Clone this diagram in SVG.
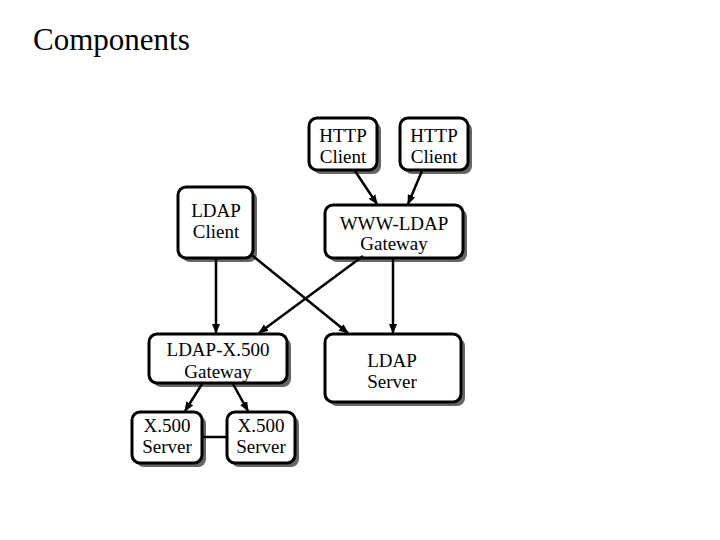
<svg xmlns="http://www.w3.org/2000/svg" width="720" height="540" viewBox="0 0 720 540">
<style>
.sh{fill:#666;stroke:none}
.bx{fill:#fff;stroke:#000;stroke-width:3}
text{font-family:"Liberation Serif","Times New Roman",serif;font-size:19px;fill:#000;text-anchor:middle}
.t{font-size:31px;text-anchor:start}
.c line{stroke:#000;stroke-width:2.5}
</style>
<defs>
<marker id="a" markerWidth="10" markerHeight="10" refX="9" refY="5" orient="auto" markerUnits="userSpaceOnUse">
<path d="M0,1 L10,5 L0,9 Z" fill="#000"/>
</marker>
</defs>
<rect width="720" height="540" fill="#fff"/>
<text class="t" x="33" y="50">Components</text>
<g id="http1"><rect class="sh" x="313" y="122" width="68" height="52" rx="8"/><rect class="bx" x="309" y="118" width="68" height="52" rx="8"/><text x="343" y="142">HTTP</text><text x="343" y="163">Client</text></g>
<g id="http2"><rect class="sh" x="404" y="122" width="68" height="52" rx="8"/><rect class="bx" x="400" y="118" width="68" height="52" rx="8"/><text x="434" y="142">HTTP</text><text x="434" y="163">Client</text></g>
<g id="wwwgw"><rect class="sh" x="329" y="209" width="138" height="53" rx="8"/><rect class="bx" x="325" y="205" width="138" height="53" rx="8"/><text x="394" y="230">WWW-LDAP</text><text x="394" y="250">Gateway</text></g>
<g id="ldapclient"><rect class="sh" x="182" y="191" width="75" height="71" rx="8"/><rect class="bx" x="178" y="187" width="75" height="71" rx="8"/><text x="216" y="217">LDAP</text><text x="216" y="238">Client</text></g>
<g id="x500gw"><rect class="sh" x="153" y="338" width="138" height="49" rx="8"/><rect class="bx" x="149" y="334" width="138" height="49" rx="8"/><text x="218" y="356">LDAP-X.500</text><text x="218" y="378">Gateway</text></g>
<g id="ldapserver"><rect class="sh" x="329" y="338" width="136" height="68" rx="8"/><rect class="bx" x="325" y="334" width="136" height="68" rx="8"/><text x="392" y="367">LDAP</text><text x="392" y="388">Server</text></g>
<g id="x500a"><rect class="sh" x="136" y="416" width="70" height="51" rx="8"/><rect class="bx" x="132" y="412" width="70" height="51" rx="8"/><text x="167" y="432">X.500</text><text x="167" y="453">Server</text></g>
<g id="x500b"><rect class="sh" x="231" y="416" width="68" height="51" rx="8"/><rect class="bx" x="227" y="412" width="68" height="51" rx="8"/><text x="261" y="432">X.500</text><text x="261" y="453">Server</text></g>
<g class="c" id="connectors">
<line x1="355" y1="171" x2="377" y2="204" marker-end="url(#a)"/>
<line x1="422" y1="171" x2="408" y2="204" marker-end="url(#a)"/>
<line x1="216" y1="259" x2="216" y2="333" marker-end="url(#a)"/>
<line x1="363" y1="256" x2="259" y2="333" marker-end="url(#a)"/>
<line x1="253" y1="256" x2="348" y2="333" marker-end="url(#a)"/>
<line x1="393" y1="259" x2="393" y2="333" marker-end="url(#a)"/>
<line x1="202" y1="384" x2="185" y2="411" marker-end="url(#a)"/>
<line x1="233" y1="384" x2="248" y2="411" marker-end="url(#a)"/>
<line x1="203" y1="437" x2="226" y2="437"/>
</g>
</svg>
